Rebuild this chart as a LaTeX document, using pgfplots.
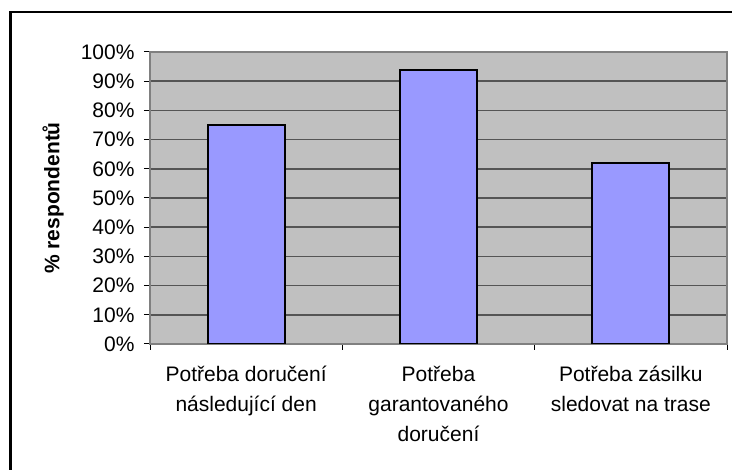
\documentclass[border=0pt]{standalone}
\usepackage{fontspec}
\setmainfont{Liberation Sans}
\usepackage{pgfplots}
\pgfplotsset{compat=1.18}
\definecolor{plotgray}{HTML}{C0C0C0}
\definecolor{barblue}{HTML}{9999FF}
\definecolor{gridgray}{HTML}{555555}
\definecolor{boxgray}{HTML}{808080}
\begin{document}
\begin{tikzpicture}[x=1pt,y=1pt]
\useasboundingbox (0,0) rectangle (732,470);
\fill[white] (0,0) rectangle (732,470);
\begin{scope}
\clip (0,0) rectangle (732,470);
\draw[line width=2.5pt] (10.7,-20) -- (10.7,458) -- (760,458);
\end{scope}
\begin{axis}[
  at={(150pt,126pt)}, anchor=south west,
  scale only axis, width=577pt, height=292pt,
  xmin=-0.5, xmax=2.5, ymin=0, ymax=100,
  axis background/.style={fill=plotgray},
  axis line style={boxgray, line width=1.5pt},
  ytick={0,10,20,30,40,50,60,70,80,90,100},
  yticklabels={0\%,10\%,20\%,30\%,40\%,50\%,60\%,70\%,80\%,90\%,100\%},
  xtick={-0.5,0.5,1.5,2.5},
  x tick label as interval,
  xticklabels={{Potřeba doručení\\následující den},{Potřeba\\garantovaného\\doručení},{Potřeba zásilku\\sledovat na trase}},
  tick label style={font=\fontsize{21}{30}\selectfont, black},
  xticklabel style={align=center, yshift=-13pt},
  yticklabel style={xshift=-6pt},
  tick align=outside, tick pos=left, major tick length=6pt,
  tick style={black, line width=1pt},
  ymajorgrids, grid style={gridgray, line width=1.7pt},
  ylabel={\% respondentů},
  ylabel style={font=\bfseries\fontsize{21}{25}\selectfont, at={(axis description cs:-0.168,0.5)}, anchor=center},
]
\addplot[ybar, bar width=0.4, fill=barblue, draw=black, line width=2pt] coordinates {(0,75) (1,94) (2,62)};
\end{axis}
\end{tikzpicture}
\end{document}
